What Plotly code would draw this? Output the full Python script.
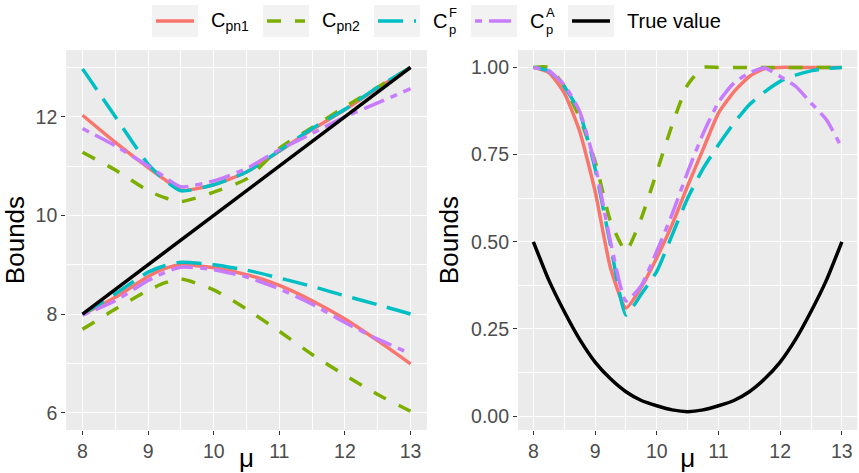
import plotly.graph_objects as go

# ---------------- data ----------------
# Left panel: interval bounds
mu_l = [8, 8.5, 9, 9.25, 9.5, 10, 10.5, 11, 11.5, 12, 12.5, 13]
cpn1_up = [12.03, 11.48, 10.97, 10.73, 10.51, 10.62, 10.88, 11.30, 11.74, 12.14, 12.58, 13.0]
cpn1_lo = [7.99, 8.34, 8.76, 8.92, 9.00, 8.94, 8.80, 8.58, 8.27, 7.90, 7.46, 6.99]
cpn2_up = [11.28, 10.92, 10.50, 10.36, 10.28, 10.47, 10.74, 11.36, 11.78, 12.20, 12.60, 13.0]
cpn2_lo = [7.69, 8.10, 8.48, 8.63, 8.71, 8.49, 8.10, 7.65, 7.18, 6.76, 6.37, 6.03]
cpf_up = [12.97, 12.00, 11.04, 10.72, 10.50, 10.62, 10.88, 11.31, 11.76, 12.15, 12.60, 13.0]
cpf_lo = [7.99, 8.41, 8.85, 8.98, 9.05, 9.00, 8.89, 8.73, 8.56, 8.37, 8.19, 8.00]
cpa_up = [11.76, 11.41, 11.00, 10.78, 10.58, 10.70, 10.95, 11.33, 11.66, 12.00, 12.28, 12.57]
cpa_lo = [7.98, 8.27, 8.68, 8.84, 8.95, 8.90, 8.75, 8.51, 8.20, 7.83, 7.49, 7.20]
true_l_x = [8, 13]
true_l_y = [8, 13]

# Right panel
mu_r = [8, 8.25, 8.5, 8.75, 9, 9.25, 9.5, 9.75, 10, 10.25, 10.5, 10.75,
        11, 11.25, 11.5, 11.75, 12, 12.25, 12.5, 12.75, 13]
cpn1_r = [1.0, 0.985, 0.927, 0.817, 0.645, 0.425, 0.31, 0.37, 0.454, 0.55, 0.66, 0.765,
          0.869, 0.93, 0.974, 0.997, 1.0, 1.0, 1.0, 1.0, 1.0]
cpn2_r = [1.0, 1.0, 0.946, 0.855, 0.731, 0.559, 0.473, 0.568, 0.70, 0.836, 0.95, 1.0,
          1.0, 1.0, 1.0, 1.0, 1.0, 1.0, 1.0, 1.0, 1.0]
cpf_r = [1.0, 0.99, 0.945, 0.87, 0.71, 0.49, 0.29, 0.35, 0.415, 0.52, 0.625, 0.71,
         0.778, 0.84, 0.893, 0.93, 0.96, 0.978, 0.99, 0.997, 1.0]
cpa_r = [1.0, 0.99, 0.95, 0.874, 0.721, 0.50, 0.33, 0.375, 0.473, 0.58, 0.70, 0.81,
         0.90, 0.955, 0.984, 0.998, 0.974, 0.946, 0.898, 0.85, 0.769]
true_r = [0.5, 0.39, 0.30, 0.22, 0.155, 0.107, 0.07, 0.045, 0.03, 0.018, 0.013, 0.018,
          0.03, 0.045, 0.07, 0.107, 0.155, 0.22, 0.30, 0.39, 0.5]

names = ["C<sub>pn1</sub>", "C<sub>pn2</sub>", "C<sub>p</sub><sup>F</sup>",
         "C<sub>p</sub><sup>A</sup>", "True value"]
legend_main = ["C<sub>pn1</sub>", "C<sub>pn2</sub>", "C", "C", "True value"]
legend_stack = [None, None, "F<br>p", "A<br>p", None]
colors = ["#F8766D", "#7CAE00", "#00BFC4", "#C77CFF", "#000000"]
dashes = ["solid", "14px,14px", "25px,11px", "7px,7px,22px,7px", "solid"]

W, H = 859, 473
LW = 3.5
fig = go.Figure()

left_sets = [(cpn1_up, cpn1_lo), (cpn2_up, cpn2_lo), (cpf_up, cpf_lo), (cpa_up, cpa_lo)]
right_sets = [cpn1_r, cpn2_r, cpf_r, cpa_r]

for i in range(4):
    up, lo = left_sets[i]
    for yy in (up, lo):
        fig.add_trace(go.Scatter(
            x=mu_l, y=yy, mode="lines", name=names[i], legendgroup=names[i],
            showlegend=False,
            line=dict(color=colors[i], width=LW, dash=dashes[i], shape="spline", smoothing=0.6),
            xaxis="x", yaxis="y"))
    fig.add_trace(go.Scatter(
        x=mu_r, y=right_sets[i], mode="lines", name=names[i], legendgroup=names[i],
        showlegend=False,
        line=dict(color=colors[i], width=LW, dash=dashes[i], shape="spline", smoothing=0.5),
        xaxis="x2", yaxis="y2"))

fig.add_trace(go.Scatter(x=true_l_x, y=true_l_y, mode="lines", name=names[4],
                         legendgroup=names[4], showlegend=False,
                         line=dict(color="black", width=LW), xaxis="x", yaxis="y"))
fig.add_trace(go.Scatter(x=mu_r, y=true_r, mode="lines", name=names[4],
                         legendgroup=names[4], showlegend=False,
                         line=dict(color="black", width=LW, shape="spline", smoothing=0.6),
                         xaxis="x2", yaxis="y2"))

FONT = "Liberation Sans, Arial, sans-serif"

# ---------- ggplot-like legend on top (keys with grey boxes) ----------
box_left = [152, 263, 374, 471, 568]
shapes = []
annotations = []
ycen = 21
for i, b in enumerate(box_left):
    shapes.append(dict(type="rect", xref="paper", yref="paper",
                       x0=b / W, x1=(b + 46) / W, y0=1 - 37 / H, y1=1 - 5 / H,
                       fillcolor="#F2F2F2", line=dict(width=0), layer="above"))
    shapes.append(dict(type="line", xref="paper", yref="paper",
                       x0=(b + 4) / W, x1=(b + 42) / W, y0=1 - ycen / H, y1=1 - ycen / H,
                       line=dict(color=colors[i], width=LW, dash=dashes[i]), layer="above"))
    annotations.append(dict(text=legend_main[i], xref="paper", yref="paper",
                            x=(b + 58) / W, y=1 - ycen / H, xanchor="left", yanchor="middle",
                            showarrow=False, borderpad=0,
                            font=dict(family=FONT, size=20, color="black")))
    if legend_stack[i]:
        annotations.append(dict(text=legend_stack[i], xref="paper", yref="paper",
                                x=(b + 74) / W, y=1 - 21 / H, xanchor="left", yanchor="middle",
                                showarrow=False, borderpad=0, align="left",
                                font=dict(family=FONT, size=13, color="black")))

ax_common = dict(showgrid=True, gridcolor="white", gridwidth=1.2, zeroline=False,
                 ticks="outside", ticklen=4, tickcolor="#333333", tickwidth=1,
                 tickfont=dict(family=FONT, size=19.5, color="#4D4D4D"),
                 showline=False, automargin=False)
title_font = dict(family=FONT, size=26, color="black")

fig.update_layout(
    width=W, height=H,
    margin=dict(l=0, r=0, t=0, b=0, autoexpand=False),
    paper_bgcolor="white", plot_bgcolor="#EBEBEB",
    font=dict(family=FONT),
    showlegend=False,
    shapes=shapes, annotations=annotations,
    xaxis=dict(domain=[0.077, 0.497], range=[7.75, 13.25], tickvals=[8, 9, 10, 11, 12, 13],
               minor=dict(tickvals=[8.5, 9.5, 10.5, 11.5, 12.5], showgrid=True,
                          gridcolor="white", gridwidth=0.6, ticks=""),
               title=dict(text="μ", font=title_font, standoff=0),
               anchor="y", **ax_common),
    yaxis=dict(domain=[0.091, 0.894], range=[5.65, 13.35], tickvals=[6, 8, 10, 12],
               minor=dict(tickvals=[7, 9, 11, 13], showgrid=True,
                          gridcolor="white", gridwidth=0.6, ticks=""),
               title=dict(text="Bounds", font=title_font, standoff=5),
               anchor="x", **ax_common),
    xaxis2=dict(domain=[0.603, 0.998], range=[7.75, 13.25], tickvals=[8, 9, 10, 11, 12, 13],
                minor=dict(tickvals=[8.5, 9.5, 10.5, 11.5, 12.5], showgrid=True,
                           gridcolor="white", gridwidth=0.6, ticks=""),
                title=dict(text="μ", font=title_font, standoff=0),
                anchor="y2", **ax_common),
    yaxis2=dict(domain=[0.091, 0.894], range=[-0.0395, 1.0495],
                tickvals=[0, 0.25, 0.5, 0.75, 1.0],
                ticktext=["0.00", "0.25", "0.50", "0.75", "1.00"],
                minor=dict(tickvals=[0.125, 0.375, 0.625, 0.875], showgrid=True,
                           gridcolor="white", gridwidth=0.6, ticks=""),
                title=dict(text="Bounds", font=title_font, standoff=5),
                anchor="x2", **ax_common),
)

fig.write_html("out.html")
